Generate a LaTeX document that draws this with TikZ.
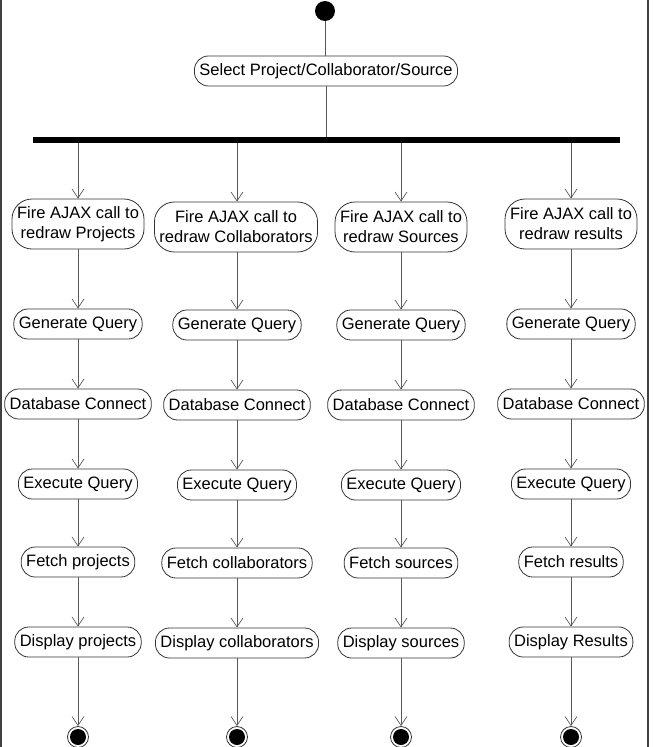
\documentclass[tikz,border=0pt]{standalone}
\usepackage{fontspec}
\setmainfont{Liberation Sans}
\usetikzlibrary{arrows.meta}
\begin{document}
\begin{tikzpicture}[x=1pt,y=-1pt,
  act/.style={draw=black!80, line width=0.8pt, rectangle, rounded corners=14pt,
    minimum height=30pt, inner xsep=5pt, inner ysep=2pt, font=\fontsize{16.5}{20}\selectfont, fill=white},
  act2/.style={act, align=center, minimum height=50pt, rounded corners=20pt},
  flow/.style={draw=black!65, line width=0.7pt},
  arr/.style={flow, -{Straight Barb[length=9pt,width=12pt]}},
  startnode/.style={circle, fill=black, minimum size=20pt, inner sep=0pt},
  endnode/.style={circle, draw=black!80, line width=0.8pt, fill=white, minimum size=21pt, inner sep=0pt,
    path picture={\fill[black] (path picture bounding box.center) circle (8pt);}},
]
\useasboundingbox (0,0) rectangle (653,747);
\draw[black!75, line width=2pt] (1,0) -- (1,747);
\draw[black!75, line width=2pt] (648,0) -- (648,747);

\node[startnode] (start) at (325,11) {};
\node[act] (sel) at (326,71) {Select Project/Collaborator/Source};
\node[fill=black, minimum width=587pt, minimum height=6pt, inner sep=0pt] (bar) at (326.5,140) {};
\draw[flow] (start) -- (start |- sel.north);
\draw[flow] (sel.south) -- (sel.south |- bar.north);

% column 1
\node[act2] (f1) at (78,224) {Fire AJAX call to\\redraw Projects};
\node[act] (g1) at (78,324) {Generate Query};
\node[act] (d1) at (78,404) {Database Connect};
\node[act] (e1) at (78,484) {Execute Query};
\node[act] (h1) at (78,562) {Fetch projects};
\node[act] (p1) at (78,642) {Display projects};
\node[endnode] (z1) at (78,737) {};

% column 2
\node[act2] (f2) at (236,227) {Fire AJAX call to\\redraw Collaborators};
\node[act] (g2) at (237,325) {Generate Query};
\node[act] (d2) at (237,405) {Database Connect};
\node[act] (e2) at (237,485) {Execute Query};
\node[act] (h2) at (237,563) {Fetch collaborators};
\node[act] (p2) at (237,643) {Display collaborators};
\node[endnode] (z2) at (237,737) {};

% column 3
\node[act2] (f3) at (401,227) {Fire AJAX call to\\redraw Sources};
\node[act] (g3) at (401,325) {Generate Query};
\node[act] (d3) at (401,405) {Database Connect};
\node[act] (e3) at (401,485) {Execute Query};
\node[act] (h3) at (401,563) {Fetch sources};
\node[act] (p3) at (401,643) {Display sources};
\node[endnode] (z3) at (401,737) {};

% column 4
\node[act2] (f4) at (571,224) {Fire AJAX call to\\redraw results};
\node[act] (g4) at (571,324) {Generate Query};
\node[act] (d4) at (571,404) {Database Connect};
\node[act] (e4) at (571,484) {Execute Query};
\node[act] (h4) at (571,562) {Fetch results};
\node[act] (p4) at (571,642) {Display Results};
\node[endnode] (z4) at (571,737) {};

\foreach \c in {1,2,3,4}{
  \draw[arr] (bar.south -| g\c.north) -- (g\c.north |- f\c.north);
  \draw[arr] (g\c.north |- f\c.south) -- (g\c.north);
  \draw[arr] (g\c) -- (d\c);
  \draw[arr] (d\c) -- (e\c);
  \draw[arr] (e\c) -- (h\c);
  \draw[arr] (h\c) -- (p\c);
  \draw[arr] (p\c) -- (z\c);
}
\end{tikzpicture}
\end{document}
